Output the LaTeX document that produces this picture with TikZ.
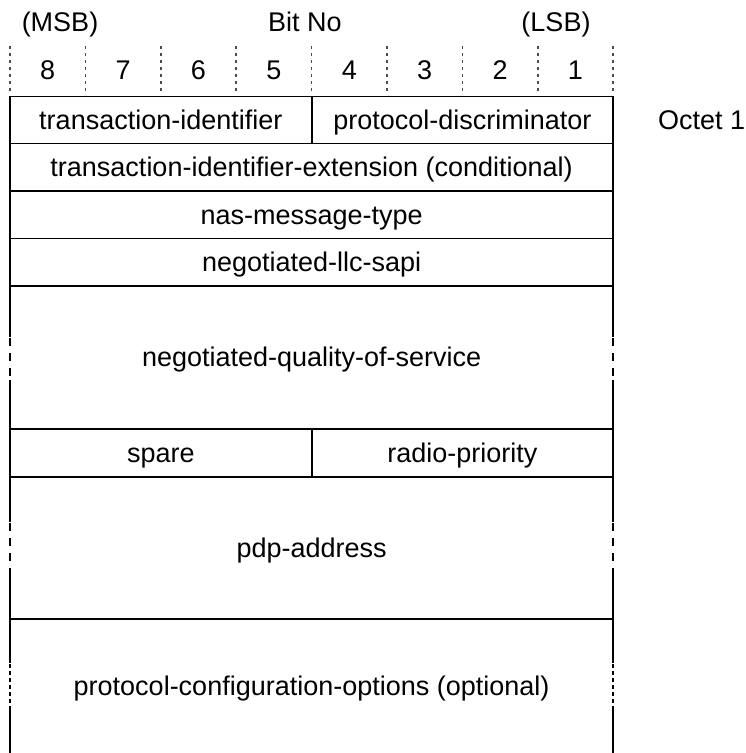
\documentclass[tikz,border=0pt]{standalone}
\usepackage{fontspec}
\setmainfont{Liberation Sans}
\begin{document}
\begin{tikzpicture}[x=1pt,y=-1pt,
  lbl/.style={anchor=base,inner sep=0pt,font=\fontsize{27}{32}\selectfont},
  boxline/.style={line width=1.8pt,line cap=rect},
  sideline/.style={line width=1.8pt},
  headdot/.style={line width=1.5pt,black!70,dash pattern=on 3pt off 4pt},
  bigdash/.style={line width=2pt,dash pattern=on 8pt off 7pt},
  smalldash/.style={line width=1.8pt,dash pattern=on 4pt off 3pt}]
\useasboundingbox (0,0) rectangle (746,753);
% header
\node[lbl] (msb) at (60,31) {(MSB)};
\node[lbl] (bitno) at (305,31) {Bit No};
\node[lbl] (lsb) at (556,31) {(LSB)};
\foreach \k in {0,...,8}{
  \draw[headdot] (10+75.4*\k,46) -- (10+75.4*\k,91);
}
\foreach \b [count=\i from 0] in {8,7,6,5,4,3,2,1}{
  \node[lbl] (bit\b) at (47.7+75.4*\i,79.5) {\b};
}
% horizontal lines
\foreach \y in {96.5,143.5,191,238.5,286,429,477,619}{
  \draw[boxline] (10,\y) -- (613.2,\y);
}
% side lines
\foreach \x in {10,613.2}{
  \draw[sideline] (\x,96.5) -- (\x,337);
  \draw[bigdash] (\x,338) -- (\x,380);
  \draw[sideline] (\x,380) -- (\x,522);
  \draw[bigdash] (\x,523) -- (\x,570);
  \draw[sideline] (\x,570) -- (\x,663);
  \draw[smalldash] (\x,664) -- (\x,708);
  \draw[sideline] (\x,708) -- (\x,753);
}
% dividers
\draw[sideline] (311.6,96.5) -- (311.6,143.5);
\draw[sideline] (311.6,429) -- (311.6,477);
% texts
\node[lbl] (ti) at (160.8,129.3) {transaction-identifier};
\node[lbl] (pd) at (462.4,129.3) {protocol-discriminator};
\node[lbl,anchor=base west] (oct) at (658,129.3) {Octet 1};
\node[lbl] (tie) at (311.6,176.5) {transaction-identifier-extension (conditional)};
\node[lbl] (nmt) at (311.6,224) {nas-message-type};
\node[lbl] (llc) at (311.6,271.5) {negotiated-llc-sapi};
\node[lbl] (qos) at (311.6,366.8) {negotiated-quality-of-service};
\node[lbl] (sp) at (160.8,462.3) {spare};
\node[lbl] (rp) at (462.4,462.3) {radio-priority};
\node[lbl] (pdp) at (311.6,557.3) {pdp-address};
\node[lbl] (pco) at (311.6,695.3) {protocol-configuration-options (optional)};
\end{tikzpicture}
\end{document}
